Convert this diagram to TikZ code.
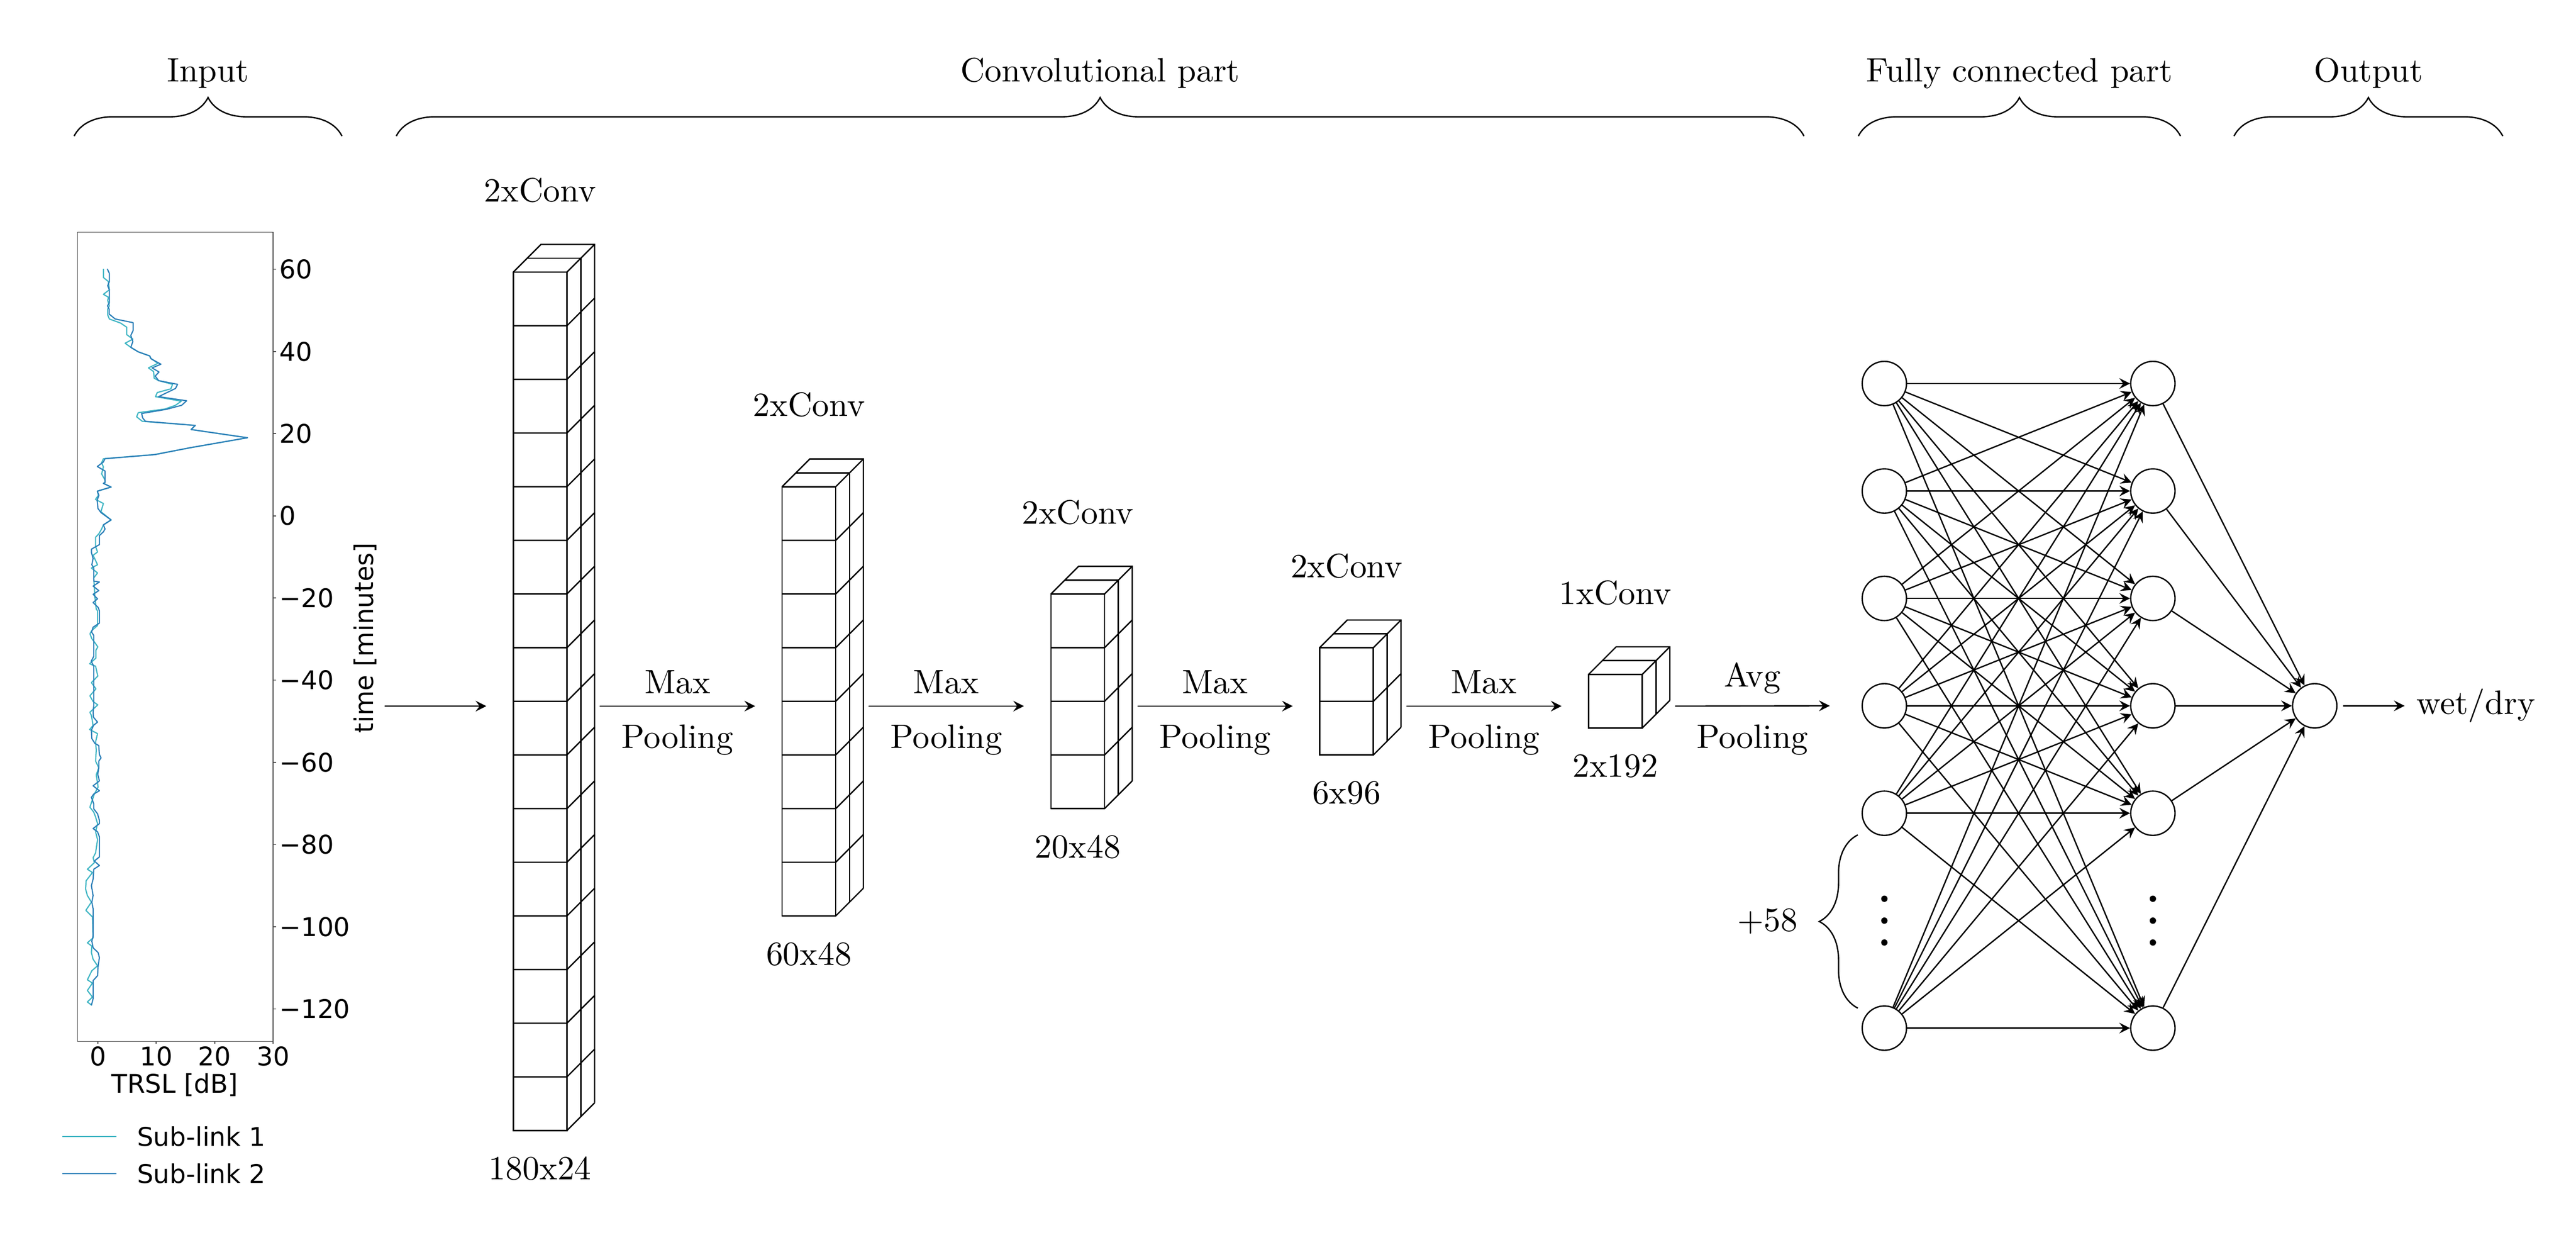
\documentclass[tikz,border=0pt]{standalone}
\usepackage{fontspec}
\newfontfamily\plotfont{DejaVu Sans}
\usetikzlibrary{arrows,positioning,decorations.pathreplacing}
\definecolor{sublinkA}{HTML}{41B6C4}
\definecolor{sublinkB}{HTML}{2C7FB8}
\newcommand\cellsz{0.557cm}
\newcommand\layer{0.1436cm}
\newcommand{\convblock}[5]{%
  \node[face,minimum height=#3*\cellsz,label={[label distance=17pt]above:#4},label={[label distance=4.2pt]below:#5}] (#1) at (#2,5.537) {};
  \foreach \k in {0,...,#3}{\draw (#1.south west) ++(0,\k*\cellsz) -- ++(\cellsz,0) -- ++(2*\layer,2*\layer);}
  \draw (#1.north west) -- ++(2*\layer,2*\layer) -- ++(\cellsz,0) -- ++(0,-#3*\cellsz);
  \draw (#1.north west) ++(\layer,\layer) -- ++(\cellsz,0) -- ++(0,-#3*\cellsz);
}
\begin{document}
\begin{tikzpicture}[>=stealth,
  face/.style={draw,minimum width=\cellsz,inner sep=0pt,outer sep=0pt},
  neuron/.style={draw,circle,minimum size=0.46cm,inner sep=0pt},
  brace/.style={decorate,decoration={brace,amplitude=0.4cm}},
  plottext/.style={font=\plotfont\fontsize{7.6}{9}\selectfont},
  axis/.style={draw=black!70,line width=0.25pt},
  sl1/.style={draw=sublinkA,line width=0.35pt,line join=round},
  sl2/.style={draw=sublinkB,line width=0.35pt,line join=round}]
  \useasboundingbox (0,0) rectangle (26.756,12.818);

  \draw[brace] (0.770,11.405) -- (3.552,11.405) node[midway,above=0.37cm] (tin) {Input};
  \draw[brace] (4.116,11.405) -- (18.737,11.405) node[midway,above=0.37cm] (tconv) {Convolutional part};
  \draw[brace] (19.302,11.405) -- (22.648,11.405) node[midway,above=0.37cm] (tfc) {Fully connected part};
  \draw[brace] (23.204,11.405) -- (25.995,11.405) node[midway,above=0.37cm] (tout) {Output};

  \begin{scope}[shift={(1.0162,7.4625)},x=0.06069cm,y=0.04266cm]
    \draw[sl1] plot coordinates {(0.95,60.1) (0.95,58.0) (1.81,57.0) (1.97,55.0) (0.95,53.9) (1.81,53.2) (1.69,52.4) (1.97,51.1) (1.69,50.3) (1.69,48.9) (1.97,47.9) (3.9,46.9) (4.94,45.9) (4.94,44.1) (5.99,43.0) (4.67,42.0) (5.64,41.0) (6.92,39.9) (8.89,38.9) (9.0,38.4) (10.28,37.1) (8.66,36.0) (9.54,35.1) (9.64,33.5) (10.4,32.9) (12.79,32.0) (12.49,30.9) (10.17,30.0) (9.87,29.0) (14.28,27.9) (13.3,26.9) (11.5,26.0) (6.92,25.1) (6.64,24.1) (7.61,23.0) (16.67,22.0) (15.97,21.0) (25.61,19.0) (15.6,16.5) (9.6,14.9) (0.95,13.9) (0.65,12.9) (0.95,11.9) (0.65,10.2) (1.23,8.7) (1.23,8.1) (0.95,7.9) (2.27,7.0) (-0.09,6.0) (0.1,5.0) (-0.4,4.0) (0.95,3.0) (0.53,1.0) (2.27,-1.0) (0.95,-2.2) (0.65,-3.2) (0.16,-4.4) (-0.38,-5.2) (-0.38,-7.5) (-0.05,-8.8) (-0.81,-9.6) (-0.05,-11.9) (-1.1,-12.7) (-0.05,-13.9) (-0.7,-15.1) (-0.49,-19.9) (-0.27,-22.7) (-0.05,-23.1) (-0.05,-26.7) (-1.03,-27.9) (-1.35,-28.7) (-1.03,-29.9) (-0.38,-31.1) (-0.01,-31.9) (-0.32,-32.7) (-0.32,-34.6) (-1.4,-36.0) (-0.38,-36.6) (-0.01,-39.0) (-1.1,-40.6) (-0.32,-42.1) (-1.36,-43.8) (-0.81,-45.2) (-0.01,-46.0) (-1.36,-47.8) (-1.1,-48.6) (-0.81,-51.0) (-1.4,-52.0) (-0.05,-53.0) (-0.38,-55.0) (-0.27,-57.0) (-0.38,-59.7) (0.16,-61.3) (-0.27,-63.0) (0.05,-66.0) (-0.6,-67.7) (-1.36,-70.9) (-0.7,-72.1) (-0.38,-73.3) (-0.05,-74.9) (-0.38,-76.9) (-0.05,-78.8) (-0.38,-82.0) (-0.81,-83.2) (-0.6,-84.4) (-1.79,-86.0) (-0.92,-86.8) (-2.0,-88.8) (-2.1,-90.8) (-1.79,-92.4) (-1.1,-94.0) (-2.05,-96.0) (-0.92,-97.6) (-0.81,-102.7) (-1.79,-103.9) (-1.03,-104.7) (-1.1,-106.3) (-0.81,-107.9) (-0.05,-109.5) (-1.03,-110.7) (-1.79,-112.9) (-0.92,-113.7) (-1.79,-115.5) (-0.92,-117.1) (-1.79,-118.3) (-1.03,-119.1)};
    \draw[sl2] plot coordinates {(1.62,60.1) (1.97,59.0) (1.97,57.0) (1.69,56.0) (1.97,55.0) (1.97,51.8) (1.65,51.1) (1.93,50.3) (1.93,49.1) (2.97,47.9) (6.04,47.0) (6.04,45.1) (5.64,43.9) (5.99,42.4) (5.64,41.0) (6.92,39.9) (8.89,38.9) (9.12,38.2) (10.8,36.9) (9.29,36.0) (10.47,35.0) (9.82,34.0) (10.4,32.9) (13.65,32.0) (13.3,31.0) (10.4,29.0) (15.2,28.0) (14.35,26.9) (11.68,25.9) (7.5,24.9) (7.68,23.8) (8.15,23.0) (16.67,22.0) (15.97,21.0) (25.61,19.0) (15.86,16.6) (9.82,14.9) (1.23,13.9) (0.95,13.1) (-0.09,12.0) (1.23,10.9) (1.23,8.1) (0.95,7.9) (2.27,7.0) (-0.09,6.0) (0.18,5.0) (-0.12,3.8) (0.02,1.8) (0.53,0.8) (2.27,-1.0) (0.95,-2.2) (1.23,-3.2) (0.95,-3.9) (0.27,-4.8) (0.27,-7.0) (-1.08,-8.1) (-1.1,-8.9) (-0.81,-10.4) (-1.03,-11.9) (-0.7,-12.7) (-0.7,-15.9) (0.27,-16.1) (-0.81,-17.1) (0.16,-18.2) (-0.81,-19.1) (-0.05,-20.2) (-0.81,-21.1) (0.05,-22.3) (0.27,-23.1) (0.27,-26.1) (-0.81,-27.1) (-1.07,-28.3) (-0.7,-29.1) (-0.7,-34.2) (-1.14,-35.4) (-0.7,-36.6) (-0.7,-46.2) (-0.81,-47.8) (-0.75,-49.0) (-0.05,-50.2) (-0.75,-51.0) (-1.1,-52.2) (-1.03,-54.2) (-0.49,-55.4) (0.16,-55.9) (0.27,-58.1) (0.55,-58.9) (0.16,-59.7) (0.16,-61.3) (-0.01,-62.9) (0.27,-64.5) (-0.81,-65.7) (0.27,-66.9) (-0.7,-67.7) (-1.1,-68.5) (-0.7,-70.1) (-0.7,-71.3) (-0.05,-72.5) (0.27,-74.1) (0.27,-74.9) (-0.81,-76.1) (-0.05,-76.9) (0.27,-78.1) (0.27,-83.0) (-0.6,-84.0) (0.27,-85.1) (-0.7,-86.0) (-0.81,-88.4) (-1.1,-90.0) (-0.81,-92.4) (-1.03,-94.0) (-0.81,-95.6) (-0.81,-102.3) (-1.03,-103.5) (-0.81,-105.1) (0.05,-106.3) (0.27,-107.5) (0.05,-109.5) (-0.05,-111.9) (-0.81,-113.1) (-0.81,-117.5) (-1.1,-119.1)};
    \draw[axis] (-3.47,-127.9) rectangle (30,69.0);
    \foreach \t/\lab in {60/60,40/40,20/20,0/0,-20/−20,-40/−40,-60/−60,-80/−80,-100/−100,-120/−120}
      \draw[axis] (30,\t) -- ++(0.03cm,0) node[right,inner sep=0.9pt,plottext] {\lab};
    \foreach \v in {0,10,20,30}
      \draw[axis] (\v,-127.9) -- ++(0,-0.025cm) node[below,inner sep=0.75pt,plottext] {\v};
  \end{scope}
  \node[plottext,rotate=90] (tlab) at (3.7924,6.1957) {time [minutes]};
  \node[plottext,anchor=base] (xlab) at (1.8153,1.473) {TRSL [dB]};
  \draw[sl1] (0.649,1.018) -- (1.2076,1.018);
  \draw[sl2] (0.649,0.6314) -- (1.2076,0.6314);
  \node[plottext,anchor=west,inner sep=0pt] (leg1) at (1.417,1.018) {Sub-link 1};
  \node[plottext,anchor=west,inner sep=0pt] (leg2) at (1.417,0.6314) {Sub-link 2};
  \coordinate (in0) at (3.995,5.487);

  \convblock{b1}{5.610}{16}{2xConv}{180x24}
  \convblock{b2}{8.402}{8}{2xConv}{60x48}
  \convblock{b3}{11.194}{4}{2xConv}{20x48}
  \convblock{b4}{13.986}{2}{2xConv}{6x96}
  \convblock{b5}{16.778}{1}{1xConv}{2x192}

  \draw[->] (in0) -- ([xshift=-0.28cm,yshift=-0.05cm]b1.west);
  \foreach \a/\b in {b1/b2,b2/b3,b3/b4,b4/b5}
    \draw[->] ([xshift=0.342cm,yshift=-0.05cm]\a.east) -- ([xshift=-0.28cm,yshift=-0.05cm]\b.west) node[midway,above] {Max} node[midway,below=2pt] {Pooling};

  \foreach \i/\y in {0/8.836,1/7.720,2/6.605,3/5.490,4/4.375,6/2.144}{
    \node[neuron] (l\i) at (19.572,\y) {};
    \node[neuron] (r\i) at (22.361,\y) {};
  }
  \node[neuron] (o) at (24.042,5.490) {};
  \node[anchor=west] (wd) at (24.976,5.490) {wet/dry};

  \draw[->] ([xshift=0.342cm,yshift=-0.05cm]b5.east) -- ([xshift=-0.33cm]l3.west) node[midway,above] {Avg} node[midway,below=2pt] {Pooling};
  \foreach \i in {0,1,2,3,4,6}
    \foreach \j in {0,1,2,3,4,6}
      \draw[->] (l\i) -- (r\j);
  \foreach \j in {0,1,2,3,4,6}
    \draw[->] (r\j) -- (o);
  \draw[->,shorten <=1.6pt] (o) -- (wd);

  \foreach \x in {19.572,22.361}
    \foreach \dy in {-0.227,0,0.227}
      \fill (\x,3.260+\dy) circle (0.033);
  \draw[brace] (19.296,2.352) -- (19.296,4.150) node[midway,left=0.5cm] (more) {$+58$};
\end{tikzpicture}
\end{document}
